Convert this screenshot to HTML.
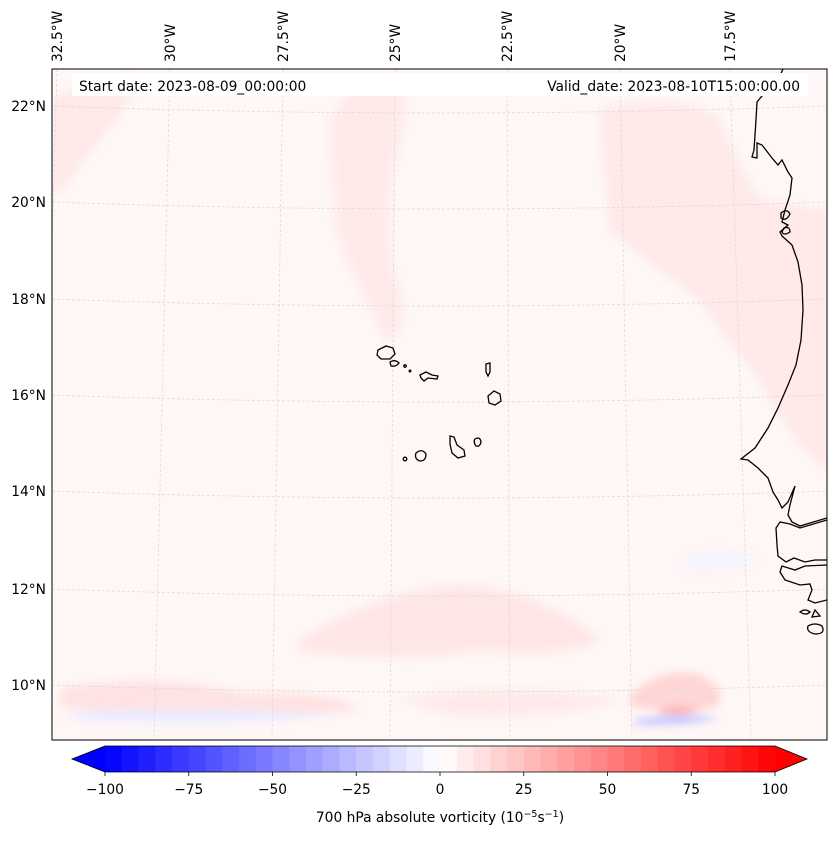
<!DOCTYPE html>
<html><head><meta charset="utf-8">
<style>
body{margin:0;background:#fff;}
svg text{font-family:"DejaVu Sans","Liberation Sans",sans-serif;font-size:13.8px;fill:#000;}
</style></head>
<body>
<svg id="fig" width="837" height="839" viewBox="0 0 837 839" xmlns="http://www.w3.org/2000/svg">
<defs>
<clipPath id="mapclip"><rect x="52" y="69" width="775" height="671"/></clipPath>
<filter id="blur" x="-20%" y="-20%" width="140%" height="140%"><feGaussianBlur stdDeviation="4"/></filter>
</defs>
<g id="map" clip-path="url(#mapclip)">
<rect x="52" y="69" width="775" height="671" fill="#fff6f6"/>
<g filter="url(#blur)">
<path d="M52 100 Q90 80 140 75 Q120 120 90 150 Q70 180 60 190 L52 190Z" fill="#ffe8e8"/>
<path d="M330 120 Q350 80 400 75 Q410 120 395 160 Q380 230 400 290 Q410 330 385 340 Q360 290 335 230Z" fill="#ffeaea"/>
<path d="M600 110 Q680 90 720 120 Q740 170 760 200 L827 210 L827 470 Q790 440 760 380 Q720 330 700 300 Q660 270 610 230 Z" fill="#ffe6e6" opacity="0.8"/>
<path d="M60 690 Q150 670 250 695 Q330 690 360 710 Q250 720 150 712 Q80 712 60 705Z" fill="#ffe2e2"/>
<path d="M70 712 Q180 705 340 714 Q250 725 150 722 Q80 722 70 716Z" fill="#eaecff"/>
<path d="M300 640 Q380 590 460 585 Q540 590 600 640 Q560 660 480 650 Q400 665 300 650Z" fill="#ffe6e6"/>
<path d="M630 695 Q665 665 700 675 Q730 690 715 708 Q660 714 630 705Z" fill="#ffd6d6"/>
<path d="M660 710 Q680 704 700 710 Q680 716 660 713Z" fill="#ffa6a6"/>
<path d="M635 720 Q680 712 720 718 Q680 727 635 724Z" fill="#c4c6ff"/>
<path d="M400 700 Q500 680 620 700 Q560 720 450 715Z" fill="#ffeaea"/>
<path d="M680 560 Q720 540 760 560 Q730 575 690 572Z" fill="#f2f4ff" opacity="0.8"/>
</g>
<g id="grid" fill="none" stroke="#d8d8d8" stroke-width="0.7" stroke-dasharray="3,2"></g>
<g id="coast" fill="none" stroke="#000" stroke-width="1.3">
<path d="M783 69 L778 80 L772 88 L762 96 L757 102 L756 120 L754 150 L752 157 L757 158 L757 143 L762 145 L772 158 L778 165 L782 160 L788 172 L792 178 L790 195 L785 210 L782 222 L788 225 L780 232 L782 236 L792 245 L798 262 L802 285 L803 310 L801 340 L796 365 L788 385 L778 408 L768 428 L755 448 L741 459 L748 460 L758 468 L768 478 L773 492 L778 500 L782 508 L788 502 L795 486 L790 505 L788 515 L792 522 L800 526 L810 523 L827 518"/>
<path d="M827 520 L800 528 L790 524 L780 522 L776 528 L777 545 L778 556 L786 562 L794 558 L805 562 L815 560 L827 560"/>
<path d="M827 565 L805 566 L795 570 L782 566 L780 572 L785 580 L800 585 L810 584 L812 590 L808 600 L815 603 L827 600"/>
<path d="M800 612 Q805 608 810 612 Q806 616 800 612Z M815 610 L820 616 L812 617Z M808 626 Q815 622 822 626 Q826 634 815 634 Q806 632 808 626Z"/>
<path d="M781 213 Q787 208 790 214 Q786 222 781 218Z M784 228 Q790 226 790 232 Q784 236 782 232Z"/>
</g>
<g fill="none" stroke="#000" stroke-width="1.3">
<path d="M378 350 L386 346 L393 348 L395 354 L390 359 L381 359 L377 355Z"/>
<path d="M390 362 Q395 359 399 363 Q396 367 391 366Z"/>
<circle cx="405" cy="366" r="1.2"/><circle cx="410" cy="371" r="0.8"/>
<path d="M420 375 L426 372 L432 375 L438 376 L437 379 L428 378 L424 381 L421 378Z"/>
<path d="M486 364 L490 363 L490 372 L488 376 L486 372Z"/>
<path d="M488 396 L494 391 L500 394 L501 401 L495 405 L489 403Z"/>
<path d="M450 436 L454 437 L457 445 L464 450 L465 456 L458 458 L452 453 L450 444Z"/>
<path d="M475 439 Q480 436 481 442 Q480 447 476 446 Q473 442 475 439Z"/>
<path d="M416 453 Q422 448 426 454 Q426 461 420 461 Q414 459 416 453Z"/>
<circle cx="405" cy="459" r="1.8"/>
</g>
</g>
<rect x="52" y="69" width="775" height="671" fill="none" stroke="#000" stroke-width="1"/>
<rect x="72" y="73" width="736" height="23" fill="#fff"/>
<text x="79" y="91">Start date: 2023-08-09_00:00:00</text>
<text x="800" y="91" text-anchor="end">Valid_date: 2023-08-10T15:00:00.00</text>
<g id="lonlabels"></g>
<g id="latlabels"></g>
<g id="cbar"></g>
<text x="440" y="822" text-anchor="middle">700 hPa absolute vorticity (10<tspan dy="-5" font-size="9.5">−5</tspan><tspan dy="5">s</tspan><tspan dy="-5" font-size="9.5">−1</tspan><tspan dy="5">)</tspan></text>
</svg>
<script>
const lonLabels=["32.5°W","30°W","27.5°W","25°W","22.5°W","20°W","17.5°W"];
const lonTopX=[57,170,283,395,507,620,730];
const lonBotX=[38,154,272,390,510,632,751];
const latLabels=["22°N","20°N","18°N","16°N","14°N","12°N","10°N"];
const latY=[106,202,299,395,491,589,685];
const cbLevels=[];for(let v=-100;v<=100;v+=5)cbLevels.push(v);
const cbTicks=[-100,-75,-50,-25,0,25,50,75,100];
const NS="http://www.w3.org/2000/svg";
function mk(t,a,p){const e=document.createElementNS(NS,t);for(const k in a)e.setAttribute(k,a[k]);p.appendChild(e);return e;}
const grid=document.getElementById('grid');
lonTopX.forEach((x,i)=>{const l=mk('line',{x1:x,y1:69,x2:lonBotX[i],y2:740},grid);

});
latY.forEach(y=>{const p=mk('path',{d:`M52 ${y} Q440 ${y+14} 827 ${y}`},grid);

});
const lg=document.getElementById('lonlabels');
lonLabels.forEach((s,i)=>{const t=mk('text',{transform:`translate(${lonTopX[i]+5},62) rotate(-90)`},lg);t.textContent=s;

});
const la=document.getElementById('latlabels');
latLabels.forEach((s,i)=>{const t=mk('text',{x:46,y:latY[i]+5,'text-anchor':'end'},la);t.textContent=s;

});
const cb=document.getElementById('cbar');
const X0=105,X1=775,Y0=746,Y1=772,vmin=-100,vmax=100;
const sx=v=>X0+(v-vmin)/(vmax-vmin)*(X1-X0);
function bwr(t){let r,g,b;if(t<0.5){r=g=2*t;b=1;}else{r=1;g=b=2*(1-t);}return `rgb(${Math.round(r*255)},${Math.round(g*255)},${Math.round(b*255)})`;}
const lt=mk('path',{d:`M${X0} ${Y0} L72 ${(Y0+Y1)/2} L${X0} ${Y1}Z`,fill:bwr(0)},cb);


const rt=mk('path',{d:`M${X1} ${Y0} L807 ${(Y0+Y1)/2} L${X1} ${Y1}Z`,fill:bwr(1)},cb);


for(let i=0;i<cbLevels.length-1;i++){const a=cbLevels[i],b=cbLevels[i+1];const t=((a+b)/2-vmin)/(vmax-vmin);
const r=mk('rect',{x:sx(a),y:Y0,width:sx(b)-sx(a)+0.5,height:Y1-Y0,fill:bwr(t)},cb);

}
const ol=mk('path',{d:`M${X0} ${Y0} L72 ${(Y0+Y1)/2} L${X0} ${Y1} L${X1} ${Y1} L807 ${(Y0+Y1)/2} L${X1} ${Y0}Z`,fill:'none',stroke:'#000','stroke-width':0.8},cb);


cbTicks.forEach(v=>{const x=sx(v);mk('line',{x1:x,y1:Y1,x2:x,y2:Y1+4,stroke:'#000','stroke-width':0.8},cb);
const t=mk('text',{x:x,y:794,'text-anchor':'middle'},cb);t.textContent=(v<0?'−':'')+Math.abs(v);

});
</script>
</body></html>
